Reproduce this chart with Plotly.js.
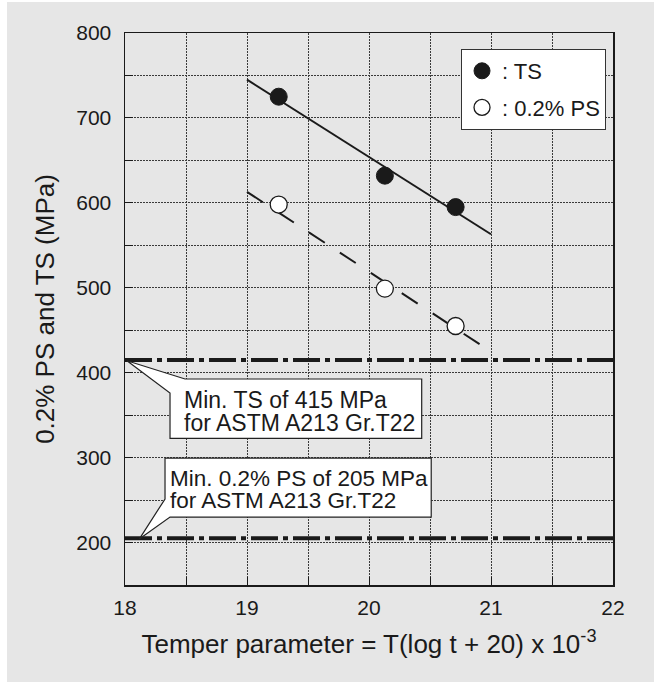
<!DOCTYPE html>
<html>
<head>
<meta charset="utf-8">
<script src="https://cdn.plot.ly/plotly-3.0.1.min.js"></script>
<style>
  html, body { margin: 0; padding: 0; background: #ffffff; }
  #chart { position: absolute; left: 7px; top: 2px; width: 647px; height: 680px; }
</style>
</head>
<body>
<div id="chart"></div>
<script>
// ---- data ----
const tsX = [19.26, 20.13, 20.71];
const tsY = [725, 632, 595];
const psX = [19.26, 20.13, 20.71];
const psY = [598, 499, 455];

// fitted trend lines (end points)
const tsFitX = [19.0, 21.0];
const tsFitY = [745, 563];
const psFitX = [19.0, 21.03];
const psFitY = [613, 422];

// specification minima
const specX = [18, 22];
const minTS = 415;
const minPS = 205;

const xTicks = [18, 19, 20, 21, 22];
const yTicks = [200, 300, 400, 500, 600, 700, 800];

const FONT = 'Liberation Sans, Arial, Helvetica, sans-serif';
const INK = '#1a1a1a';
const BG = '#e6e6e6';

const traces = [
  { x: tsFitX, y: tsFitY, mode: 'lines', line: { color: INK, width: 2 }, showlegend: false, hoverinfo: 'skip' },
  { x: psFitX, y: psFitY, mode: 'lines', line: { color: INK, width: 2, dash: '19px,18px' }, showlegend: false, hoverinfo: 'skip' },
  { x: specX, y: specX.map(() => minTS), mode: 'lines', line: { color: INK, width: 4, dash: '27px,5px,5px,5px' }, showlegend: false, hoverinfo: 'skip' },
  { x: specX, y: specX.map(() => minPS), mode: 'lines', line: { color: INK, width: 4, dash: '27px,5px,5px,5px' }, showlegend: false, hoverinfo: 'skip' },
  { x: tsX, y: tsY, mode: 'markers', name: ': TS', legendgroup: 'a',
    marker: { size: 17, color: INK, line: { color: INK, width: 1 } } },
  { x: psX, y: psY, mode: 'markers', name: ': 0.2% PS', legendgroup: 'b',
    marker: { size: 17, color: '#ffffff', line: { color: INK, width: 1.3 } } }
];

const gridDash = '2px,1px';
const gridColor = '#3a3a3a';

const layout = {
  width: 647, height: 680,
  margin: { l: 118, r: 41, t: 31, b: 97 },
  paper_bgcolor: BG,
  plot_bgcolor: BG,
  font: { family: FONT, color: INK },
  showlegend: true,
  legend: {
    x: 0.9857, xanchor: 'right', y: 0.971, yanchor: 'top',
    bgcolor: '#ffffff', bordercolor: '#333333', borderwidth: 1,
    font: { family: FONT, size: 22, color: INK },
    traceorder: 'grouped', tracegroupgap: 5, itemwidth: 30
  },
  xaxis: {
    range: [18, 22], tickvals: xTicks, ticktext: xTicks.map(String),
    showline: true, linecolor: INK, linewidth: 1.5, mirror: true,
    ticks: 'inside', ticklen: 8, tickcolor: INK, tickwidth: 1,
    showgrid: true, gridcolor: gridColor, griddash: gridDash, gridwidth: 1,
    minor: { dtick: 0.5, tick0: 18, showgrid: true, gridcolor: gridColor, griddash: gridDash, gridwidth: 1, ticks: 'inside', ticklen: 8, tickcolor: INK },
    zeroline: false,
    tickfont: { family: FONT, size: 21, color: INK },
    ticklabelstandoff: 3,
    title: { text: 'Temper parameter = T(log t + 20) x 10<sup>-3</sup>', font: { family: FONT, size: 26, color: INK }, standoff: 17 },
    automargin: false, fixedrange: true
  },
  yaxis: {
    range: [150, 800], tickvals: yTicks, ticktext: yTicks.map(String),
    showline: true, linecolor: INK, linewidth: 1.5, mirror: true,
    ticks: 'inside', ticklen: 8, tickcolor: INK, tickwidth: 1,
    showgrid: true, gridcolor: gridColor, griddash: gridDash, gridwidth: 1,
    minor: { dtick: 50, tick0: 150, showgrid: true, gridcolor: gridColor, griddash: gridDash, gridwidth: 1, ticks: 'inside', ticklen: 8, tickcolor: INK },
    zeroline: false,
    tickfont: { family: FONT, size: 21, color: INK },
    ticklabelstandoff: 8,
    title: { text: '0.2% PS and TS (MPa)', font: { family: FONT, size: 26, color: INK }, standoff: 14 },
    automargin: false, fixedrange: true
  },
  shapes: [
    { type: 'path', xref: 'x', yref: 'y', layer: 'above',
      path: 'M 18.492,392.6 L 20.432,392.6 L 20.432,322.7 L 18.369,322.7 L 18.369,376.1 L 18.016,414 Z',
      fillcolor: '#ffffff', line: { color: '#222222', width: 1.2 } },
    { type: 'path', xref: 'x', yref: 'y', layer: 'above',
      path: 'M 18.328,299.5 L 20.51,299.5 L 20.51,230 L 18.369,230 L 18.117,204.1 L 18.328,251.3 Z',
      fillcolor: '#ffffff', line: { color: '#222222', width: 1.2 } }
  ],
  annotations: [
    { x: 18.47, y: 367.8, xref: 'x', yref: 'y', xanchor: 'left', yanchor: 'middle', showarrow: false,
      text: 'Min. TS of 415 MPa', font: { family: FONT, size: 23, color: INK } },
    { x: 18.47, y: 340.7, xref: 'x', yref: 'y', xanchor: 'left', yanchor: 'middle', showarrow: false,
      text: 'for ASTM A213 Gr.T22', font: { family: FONT, size: 23, color: INK } },
    { x: 18.35, y: 276, xref: 'x', yref: 'y', xanchor: 'left', yanchor: 'middle', showarrow: false,
      text: 'Min. 0.2% PS of 205 MPa', font: { family: FONT, size: 22.5, color: INK } },
    { x: 18.35, y: 250, xref: 'x', yref: 'y', xanchor: 'left', yanchor: 'middle', showarrow: false,
      text: 'for ASTM A213 Gr.T22', font: { family: FONT, size: 22.5, color: INK } }
  ]
};

Plotly.newPlot('chart', traces, layout, { staticPlot: true, displayModeBar: false });
</script>
</body>
</html>
